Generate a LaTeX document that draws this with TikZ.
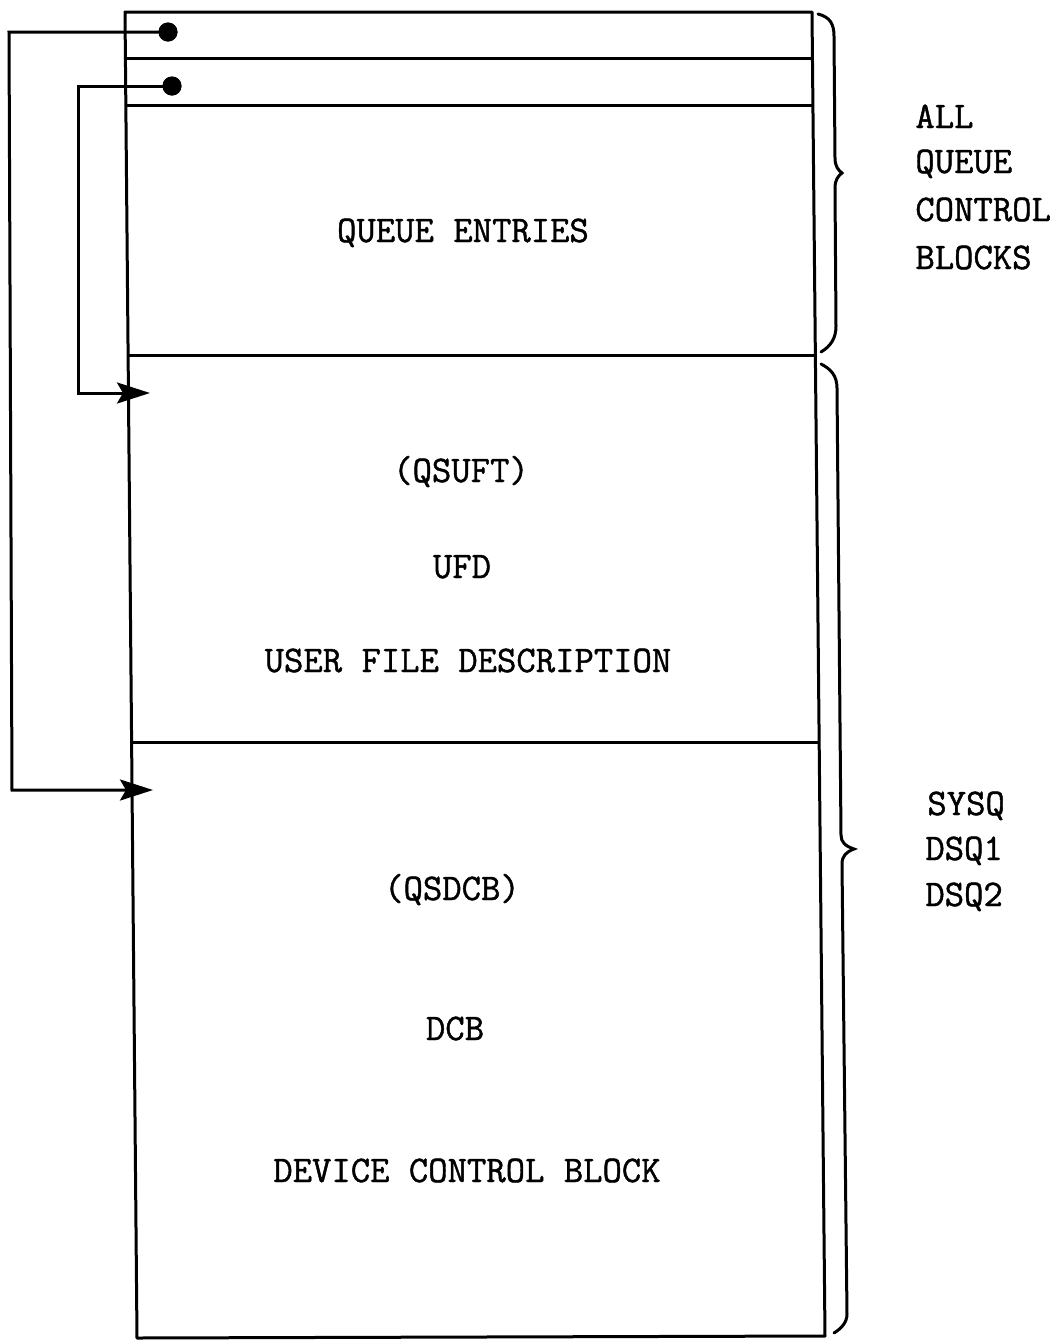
\documentclass[tikz,border=0pt]{standalone}
\usepackage{fontspec}
\newfontfamily\typed[FakeBold=1.2]{Latin Modern Mono}
\usetikzlibrary{arrows.meta}
\begin{document}
\begin{tikzpicture}[x=0.5pt,y=-0.5pt,
  frame/.style={line width=1.5pt,line join=round},
  brace/.style={line width=1.5pt,line cap=round},
  ptr/.style={line width=1.5pt,line join=miter,-{Stealth[length=16.5pt,width=10.5pt,inset=3pt]}},
  dotnode/.style={circle,fill=black,inner sep=0pt,minimum size=9.5pt},
  txt/.style={font=\typed\fontsize{18.8}{22}\selectfont,inner sep=0pt,anchor=base},
  side/.style={txt,anchor=base west}]
\useasboundingbox (0,0) rectangle (1059,1341);

% outer frame of the control block area (slightly skewed, as typed)
\coordinate (tl) at (125,12);
\coordinate (tr) at (812,12);
\coordinate (bl) at (137,1338);
\coordinate (br) at (825,1336);
\draw[frame] (tl) -- (tr) -- (br) -- (bl) -- cycle;

% compartment separators
\draw[frame] (126,58)  -- (813,58);
\draw[frame] (126,105) -- (813,105);
\draw[frame] (128,355) -- (815,355);
\draw[frame] (132,742) -- (819,742);

% texts inside the compartments
\node[txt] (qe)  at (463,242)  {QUEUE ENTRIES};
\node[txt] (qsuft) at (461,482) {(QSUFT)};
\node[txt] (ufd) at (462,578)  {UFD};
\node[txt] (ufdl) at (468,672) {USER FILE DESCRIPTION};
\node[txt] (qsdcb) at (452,900) {(QSDCB)};
\node[txt] (dcb) at (455,1040) {DCB};
\node[txt] (dcbl) at (467,1182) {DEVICE CONTROL BLOCK};

% pointer fields and their targets
\node[dotnode] (d1) at (168,32) {};
\node[dotnode] (d2) at (172,86) {};
\coordinate (k1) at (9,32);
\coordinate (k2) at (12,790);
\coordinate (t1) at (153,790);
\coordinate (m1) at (78,86);
\coordinate (m2) at (78,393);
\coordinate (t2) at (150,393);
\draw[ptr] (d1.center) -- (k1) -- (k2) -- (t1);
\draw[ptr] (d2.center) -- (m1) -- (m2) -- (t2);
\node[dotnode] at (d1) {};
\node[dotnode] at (d2) {};

% upper brace
\draw[brace] (818,14) .. controls (830,17) and (834,24) .. (834,36)
  -- (835,158) .. controls (835,166) and (838,170) .. (842,173)
  .. controls (838,176) and (835,180) .. (835,188)
  -- (836,326) .. controls (836,338) and (831,346) .. (821,352);

% lower brace
\draw[brace] (821,364) .. controls (831,369) and (837,376) .. (837,388)
  -- (841,835) .. controls (841,842) and (845,846) .. (854,849)
  .. controls (846,852) and (842,856) .. (842,864)
  -- (847,1314) .. controls (847,1322) and (842,1328) .. (834,1333);

% labels beside the braces
\node[side] (l1) at (915,128) {ALL};
\node[side] (l2) at (915,173) {QUEUE};
\node[side] (l3) at (915,221) {CONTROL};
\node[side] (l4) at (915,269) {BLOCKS};
\node[side] (s1) at (927,815) {SYSQ};
\node[side] (s2) at (925,860) {DSQ1};
\node[side] (s3) at (925,906) {DSQ2};
\end{tikzpicture}
\end{document}
